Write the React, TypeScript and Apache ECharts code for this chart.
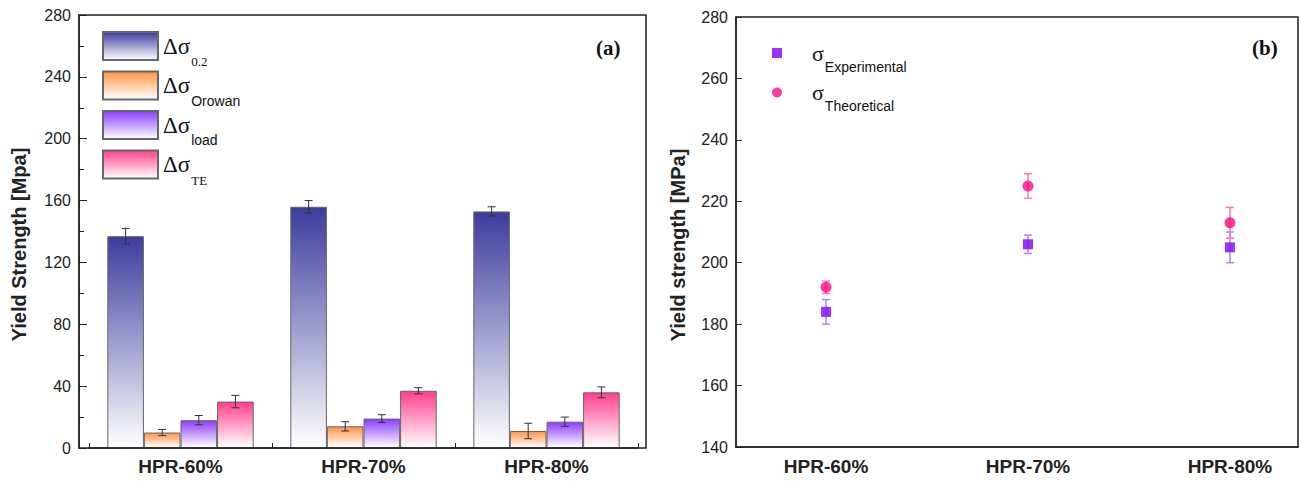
import React, { useEffect, useRef } from 'react';
import * as echarts from 'echarts';

// ---------- data ----------
const categories = ['HPR-60%', 'HPR-70%', 'HPR-80%'];

const barNames = ['Δσ0.2', 'ΔσOrowan', 'Δσload', 'ΔσTE'];
const dSigma02 = [137, 156, 153];
const dSigma02Err = [5, 4, 3];
const dSigmaOrowan = [10, 14, 11];
const dSigmaOrowanErr = [2, 3, 5];
const dSigmaLoad = [18, 19, 17];
const dSigmaLoadErr = [3, 2.5, 3];
const dSigmaTE = [30, 37, 36];
const dSigmaTEErr = [4, 2, 3.5];

const sigmaExpName = 'σExperimental';
const sigmaTheoName = 'σTheoretical';
const sigmaExp = [184, 206, 205];
const sigmaExpErr = [4, 3, 5];
const sigmaTheo = [192, 225, 213];
const sigmaTheoErr = [2, 4, 5];

const leftYTicks = { min: 0, max: 280, interval: 40 };
const rightYTicks = { min: 140, max: 280, interval: 20 };

// ---------- styles ----------
const barTopColors = ['#3c3c9e', '#ff9445', '#8a3cff', '#ff3f8f'];
const SERIF = "'Liberation Serif', 'Times New Roman', serif";
const SANS = "'Liberation Sans', Arial, sans-serif";
const AXIS_COLOR = '#222';

const grad = (c: string) =>
  new echarts.graphic.LinearGradient(0, 0, 0, 1, [
    { offset: 0, color: c },
    { offset: 1, color: '#ffffff' },
  ]);

export default function App() {
  const ref = useRef<HTMLDivElement>(null);

  useEffect(() => {
    document.body.style.margin = '0';
    if (!ref.current) return;
    const chart = echarts.init(ref.current, undefined, { renderer: 'svg' });

    const barValues = [dSigma02, dSigmaOrowan, dSigmaLoad, dSigmaTE];
    const barErrs = [dSigma02Err, dSigmaOrowanErr, dSigmaLoadErr, dSigmaTEErr];

    const barSeries = barNames.map((name, s) => ({
      name,
      type: 'bar',
      xAxisIndex: 0,
      yAxisIndex: 0,
      data: barValues[s],
      barGap: '0%',
      barCategoryGap: '20%',
      itemStyle: {
        color: grad(barTopColors[s]),
        borderColor: '#666',
        borderWidth: 1,
      },
      z: 2,
    }));

    const barErrData: number[][] = [];
    barValues.forEach((vals, s) =>
      vals.forEach((v, i) => barErrData.push([i, v, barErrs[s][i], s]))
    );

    const errBarSeries = {
      type: 'custom',
      xAxisIndex: 0,
      yAxisIndex: 0,
      data: barErrData,
      encode: { x: 0, y: 1 },
      z: 5,
      silent: true,
      renderItem: (params: any, api: any) => {
        const i = api.value(0);
        const v = api.value(1);
        const e = api.value(2);
        const s = api.value(3);
        const band = api.size([1, 0])[0];
        const cx = api.coord([i, v])[0] + (s - 1.5) * 0.2 * band;
        const yt = api.coord([i, v + e])[1];
        const yb = api.coord([i, v - e])[1];
        const w = 4;
        const st = { stroke: '#333', lineWidth: 1 };
        return {
          type: 'group',
          children: [
            { type: 'line', shape: { x1: cx, y1: yt, x2: cx, y2: yb }, style: st },
            { type: 'line', shape: { x1: cx - w, y1: yt, x2: cx + w, y2: yt }, style: st },
            { type: 'line', shape: { x1: cx - w, y1: yb, x2: cx + w, y2: yb }, style: st },
          ],
        };
      },
    };

    const scatterErr = (vals: number[], errs: number[], color: string) => ({
      type: 'custom',
      xAxisIndex: 1,
      yAxisIndex: 1,
      data: vals.map((v, i) => [i + 1, v, errs[i]]),
      encode: { x: 0, y: 1 },
      z: 4,
      silent: true,
      renderItem: (params: any, api: any) => {
        const x = api.value(0);
        const v = api.value(1);
        const e = api.value(2);
        const cx = api.coord([x, v])[0];
        const yt = api.coord([x, v + e])[1];
        const yb = api.coord([x, v - e])[1];
        const w = 4;
        const st = { stroke: color, lineWidth: 1.5 };
        return {
          type: 'group',
          children: [
            { type: 'line', shape: { x1: cx, y1: yt, x2: cx, y2: yb }, style: st },
            { type: 'line', shape: { x1: cx - w, y1: yt, x2: cx + w, y2: yt }, style: st },
            { type: 'line', shape: { x1: cx - w, y1: yb, x2: cx + w, y2: yb }, style: st },
          ],
        };
      },
    });

    const axisLabelStyle = { color: AXIS_COLOR, fontFamily: SANS, fontSize: 16 };
    const catLabelStyle = { color: AXIS_COLOR, fontFamily: SANS, fontSize: 19, fontWeight: 'bold' };
    const nameStyle = {
      color: AXIS_COLOR,
      fontFamily: SANS,
      fontSize: 20,
      fontWeight: 'bold',
      padding: [0, 26, 0, 0],
    };

    const option: any = {
      animation: false,
      backgroundColor: '#ffffff',
      grid: [
        { left: 89, top: 15, width: 549, height: 433 },
        { left: 736, top: 17, width: 562, height: 430 },
      ],
      legend: [
        {
          data: barNames,
          orient: 'vertical',
          left: 102,
          top: 31,
          padding: 0,
          itemWidth: 55,
          itemHeight: 28,
          itemGap: 2.5,
          icon: 'rect',
          selectedMode: false,
          formatter: (name: string) => {
            const sub = name.slice(2);
            const tok = sub === '0.2' || sub === 'TE' ? 'ss' : 'sa';
            return `{a|Δσ}{${tok}|${sub}}`;
          },
          textStyle: {
            rich: {
              a: { fontFamily: SERIF, fontSize: 23, lineHeight: 44, color: '#111', verticalAlign: 'middle' },
              ss: { fontFamily: SERIF, fontSize: 13, lineHeight: 13, color: '#111', verticalAlign: 'bottom', padding: [0, 0, 0, 1] },
              sa: { fontFamily: SANS, fontSize: 14, lineHeight: 14, color: '#111', verticalAlign: 'bottom', padding: [0, 0, 0, 1] },
            },
          },
        },
        {
          data: [sigmaExpName, sigmaTheoName],
          orient: 'vertical',
          left: 772,
          top: 42,
          padding: 0,
          itemWidth: 10,
          itemHeight: 10,
          itemGap: 8,
          selectedMode: false,
          formatter: (name: string) => `{a|σ}{s|${name.slice(1)}}`,
          textStyle: {
            rich: {
              a: { fontFamily: SERIF, fontSize: 22, lineHeight: 41, color: '#111', verticalAlign: 'middle', padding: [0, 0, 0, 25] },
              s: { fontFamily: SANS, fontSize: 14, lineHeight: 14, color: '#111', verticalAlign: 'bottom', padding: [0, 0, 0, 1] },
            },
          },
        },
      ],
      xAxis: [
        {
          type: 'category',
          gridIndex: 0,
          data: categories,
          boundaryGap: true,
          axisLine: { show: true, lineStyle: { color: AXIS_COLOR, width: 1.5 } },
          axisTick: { show: true, inside: true, length: 5, alignWithLabel: false, lineStyle: { color: AXIS_COLOR } },
          axisLabel: { ...catLabelStyle, margin: 9 },
          splitLine: { show: false },
        },
        {
          type: 'value',
          gridIndex: 1,
          min: 0.554,
          max: 3.337,
          axisLine: { show: true, onZero: false, lineStyle: { color: AXIS_COLOR, width: 1.5 } },
          axisTick: { show: false },
          axisLabel: {
            ...catLabelStyle,
            margin: 10,
            customValues: [1, 2, 3],
            formatter: (v: number) => categories[Math.round(v) - 1] ?? '',
          },
          splitLine: { show: false },
        },
      ],
      yAxis: [
        {
          type: 'value',
          gridIndex: 0,
          ...leftYTicks,
          offset: 10,
          name: 'Yield Strength [Mpa]',
          nameLocation: 'middle',
          nameGap: 50,
          nameTextStyle: nameStyle,
          axisLine: { show: true, lineStyle: { color: AXIS_COLOR, width: 1.5 } },
          axisTick: { show: true, inside: true, length: 8, lineStyle: { color: AXIS_COLOR } },
          minorTick: { show: true, splitNumber: 2, length: 5, lineStyle: { color: AXIS_COLOR } },
          axisLabel: { ...axisLabelStyle, margin: 8 },
          splitLine: { show: false },
        },
        {
          type: 'value',
          gridIndex: 1,
          ...rightYTicks,
          name: 'Yield strength [MPa]',
          nameLocation: 'middle',
          nameGap: 48,
          nameTextStyle: nameStyle,
          axisLine: { show: true, lineStyle: { color: AXIS_COLOR, width: 1.5 } },
          axisTick: { show: true, inside: true, length: 6, lineStyle: { color: AXIS_COLOR } },
          axisLabel: { ...axisLabelStyle, margin: 8 },
          splitLine: { show: false },
        },
      ],
      series: [
        ...barSeries,
        errBarSeries,
        scatterErr(sigmaExp, sigmaExpErr, '#b680ff'),
        scatterErr(sigmaTheo, sigmaTheoErr, '#ff74b2'),
        {
          name: sigmaExpName,
          type: 'scatter',
          xAxisIndex: 1,
          yAxisIndex: 1,
          symbol: 'rect',
          symbolSize: 10,
          itemStyle: { color: '#7f00ff' },
          data: sigmaExp.map((v, i) => [i + 1, v]),
          z: 6,
        },
        {
          name: sigmaTheoName,
          type: 'scatter',
          xAxisIndex: 1,
          yAxisIndex: 1,
          symbol: 'circle',
          symbolSize: 11,
          itemStyle: { color: '#ff0a80' },
          data: sigmaTheo.map((v, i) => [i + 1, v]),
          z: 6,
        },
      ],
      graphic: [
        {
          type: 'rect',
          silent: true,
          z: 10,
          shape: { x: 79, y: 15, width: 567, height: 433 },
          style: { fill: 'none', stroke: AXIS_COLOR, lineWidth: 1.5 },
        },
        {
          type: 'rect',
          silent: true,
          z: 10,
          shape: { x: 736, y: 17, width: 562, height: 430 },
          style: { fill: 'none', stroke: AXIS_COLOR, lineWidth: 1.5 },
        },
        {
          type: 'text',
          x: 596,
          y: 37,
          style: { text: '(a)', fontFamily: SERIF, fontSize: 21, fontWeight: 'bold', fill: '#111' },
        },
        {
          type: 'text',
          x: 1252,
          y: 37,
          style: { text: '(b)', fontFamily: SERIF, fontSize: 21, fontWeight: 'bold', fill: '#111' },
        },
      ],
    };

    chart.setOption(option);
    return () => chart.dispose();
  }, []);

  return <div ref={ref} style={{ width: 1301, height: 482 }} />;
}
